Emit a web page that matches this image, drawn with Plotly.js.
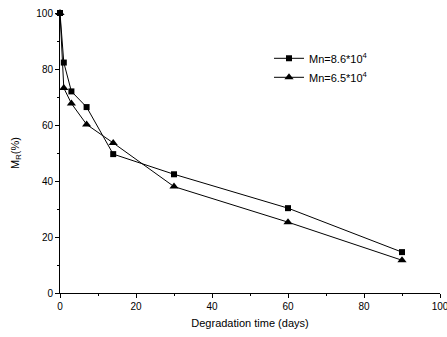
<!DOCTYPE html>
<html>
<head>
<script src="https://cdn.plot.ly/plotly-3.0.1.min.js"></script>
<style>html,body{margin:0;padding:0;background:#fff;}</style>
</head>
<body>
<div id="chart" style="width:447px;height:337px;"></div>
<script>
var days = [0, 1, 3, 7, 14, 30, 60, 90];
var mn86 = [100, 82.3, 72.0, 66.4, 49.6, 42.4, 30.3, 14.6];
var mn65 = [100, 73.2, 67.7, 60.2, 53.6, 38.0, 25.3, 11.7];
var seriesNames = ['Mn=8.6*10<sup>4</sup>', 'Mn=6.5*10<sup>4</sup>'];

var traces = [
  {x: days, y: mn86, name: seriesNames[0], mode: 'lines+markers', cliponaxis: false,
   line: {color: '#000', width: 1}, marker: {symbol: 'square', size: 6, color: '#000'}},
  {x: days, y: mn65, name: seriesNames[1], mode: 'lines+markers', cliponaxis: false,
   line: {color: '#000', width: 1}, marker: {symbol: 'triangle-up', size: 8, color: '#000'}}
];

var layout = {
  width: 447, height: 337,
  margin: {l: 60, r: 7, t: 13, b: 44},
  paper_bgcolor: '#fff', plot_bgcolor: '#fff',
  font: {family: 'Liberation Sans, Arial, sans-serif', size: 10, color: '#000'},
  showlegend: true,
  legend: {x: 0.55, y: 0.89, xanchor: 'left', yanchor: 'top', bgcolor: 'rgba(0,0,0,0)',
           font: {size: 11}, tracegroupgap: 0, itemwidth: 30},
  xaxis: {range: [0, 100], dtick: 20, tick0: 0, showgrid: false, zeroline: false,
          showline: true, linecolor: '#000', linewidth: 1, ticks: 'outside', ticklen: 4,
          ticklabeloverflow: 'allow',
          tickcolor: '#000', minor: {dtick: 10, ticks: 'outside', ticklen: 2, tickcolor: '#000'},
          title: {text: 'Degradation time (days)', font: {size: 11}, standoff: 8}},
  yaxis: {range: [0, 100], dtick: 20, tick0: 0, showgrid: false, zeroline: false,
          showline: true, linecolor: '#000', linewidth: 1, ticks: 'outside', ticklen: 4,
          tickcolor: '#000', minor: {dtick: 10, ticks: 'outside', ticklen: 2, tickcolor: '#000'},
          title: {text: 'M<sub>R</sub>(%)', font: {size: 11}, standoff: 14}}
};

Plotly.newPlot('chart', traces, layout, {displayModeBar: false, staticPlot: true});
</script>
</body>
</html>
